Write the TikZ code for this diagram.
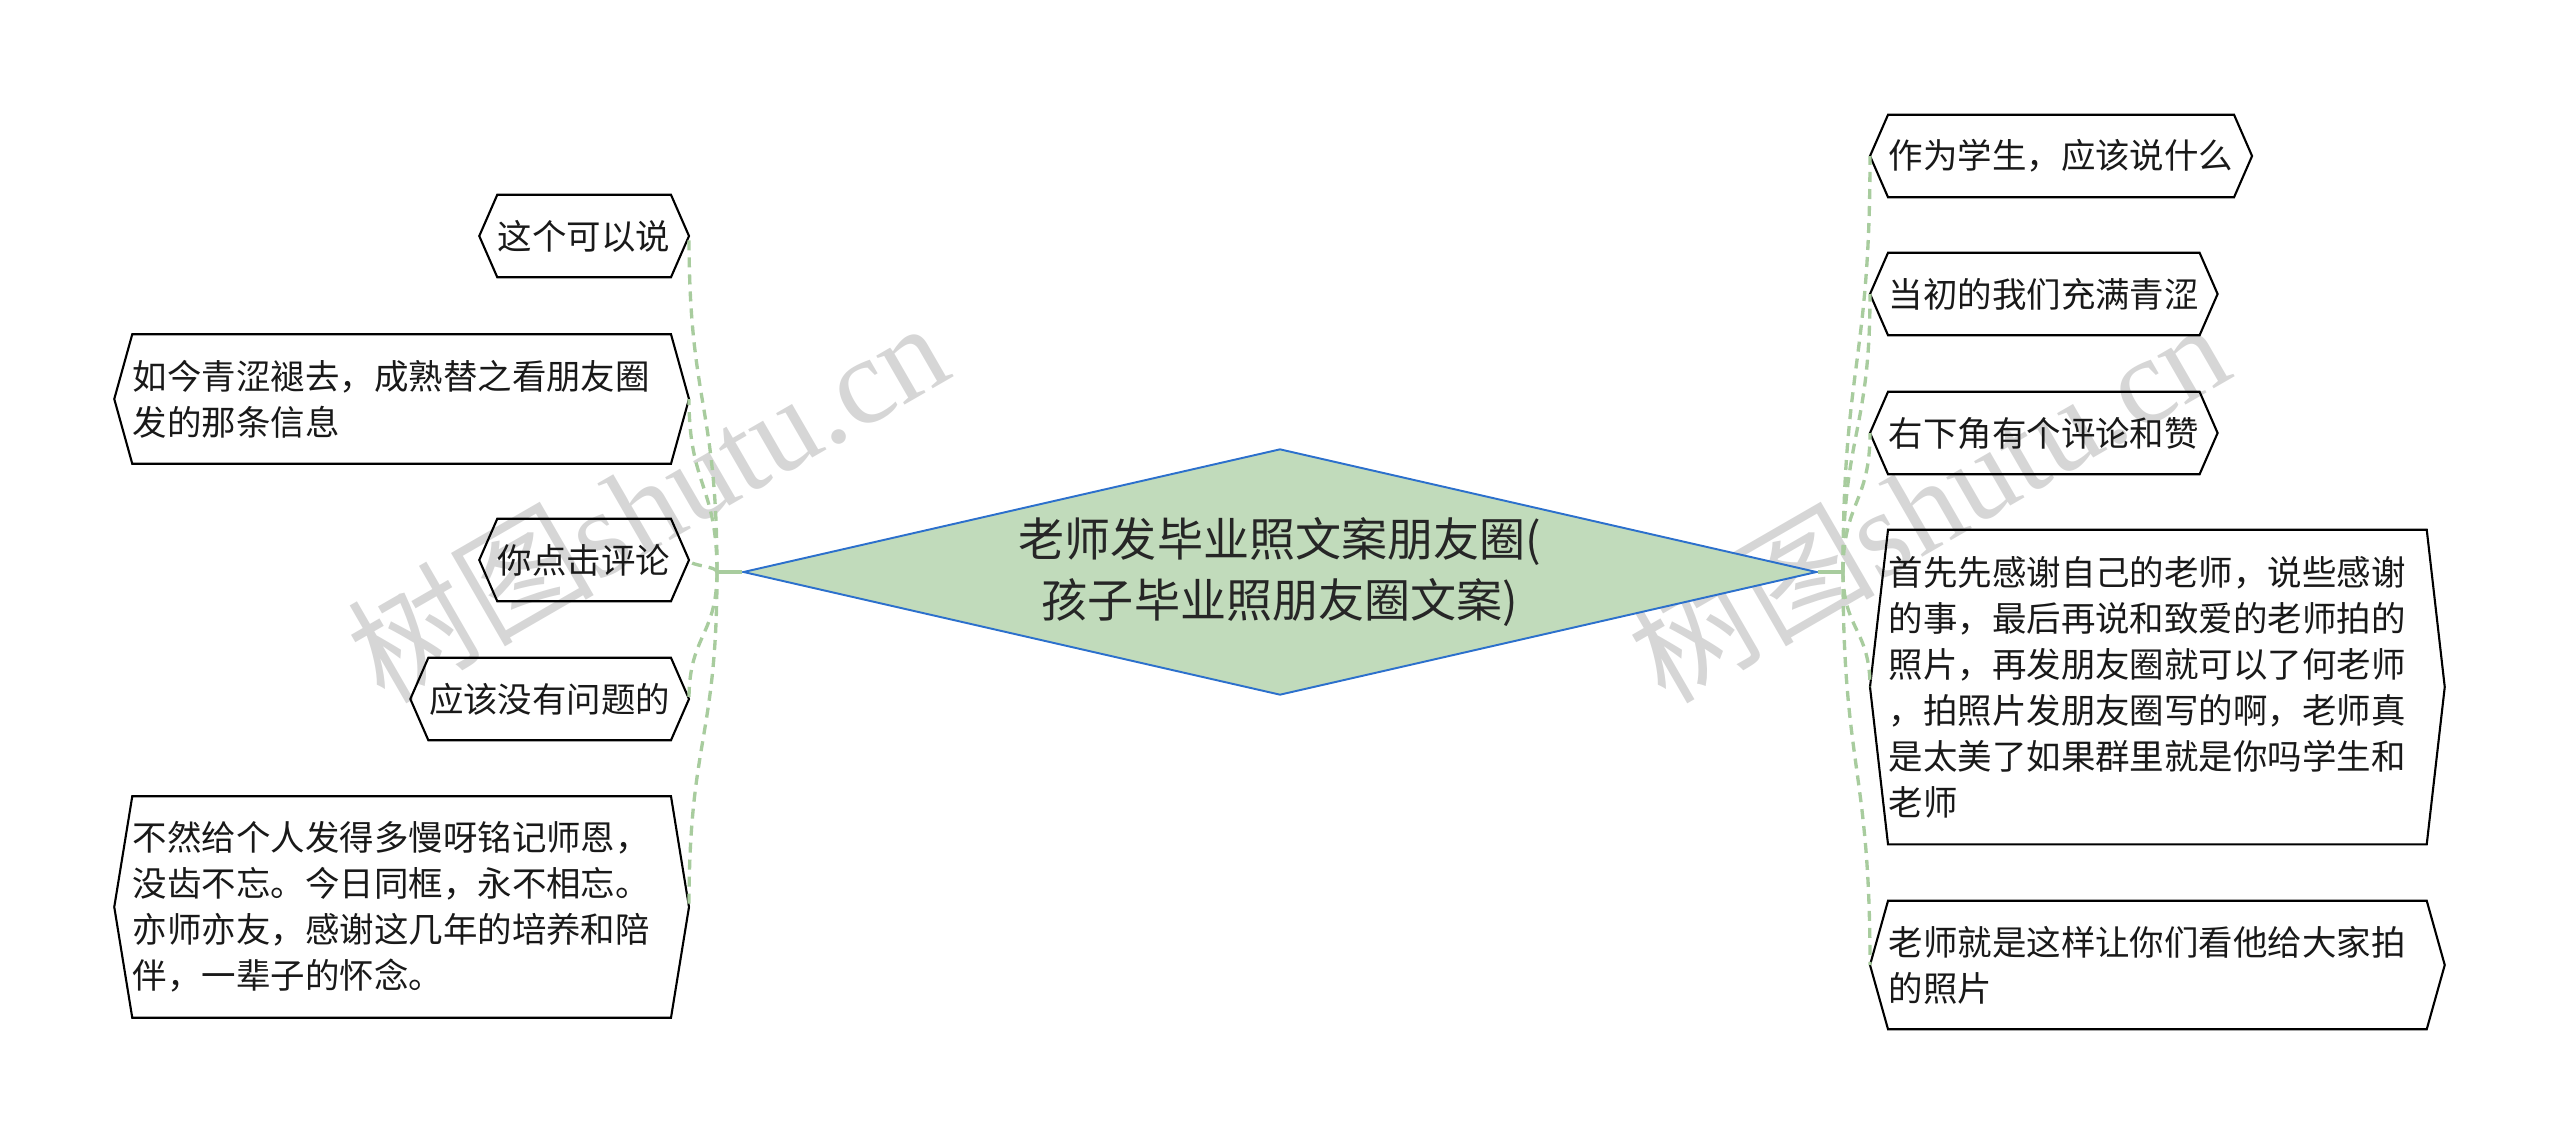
\documentclass[tikz,border=0pt]{standalone}
\usepackage{fontspec}
\setmainfont{Noto Sans CJK SC}
\newfontfamily\markfont{Liberation Serif}
\usetikzlibrary{shapes.geometric}

\definecolor{rootfill}{RGB}{193,219,187}
\definecolor{rootline}{RGB}{44,112,204}
\definecolor{linkgreen}{RGB}{168,204,158}
\definecolor{markgray}{RGB}{214,214,214}

\newcommand{\leaffont}{\fontsize{9.8pt}{13.1pt}\selectfont}
\newcommand{\rootfont}{\fontsize{13.1pt}{17.1pt}\selectfont}
% hexagon outline round a leaf node
\newcommand{\hexframe}[1]{%
  \draw[frame] (#1.west) -- ([xshift=0.18cm]#1.north west) -- ([xshift=-0.18cm]#1.north east)
    -- (#1.east) -- ([xshift=-0.18cm]#1.south east) -- ([xshift=0.18cm]#1.south west) -- cycle;}

\begin{document}
\begin{tikzpicture}[
    x=0.01cm, y=-0.01cm,
    leaf/.style={font=\leaffont, text=black!90, inner xsep=0.18cm, inner ysep=0pt, minimum height=0.81cm, align=left},
    wide/.style={leaf, text width=5.37cm},
    frame/.style={draw=black, line width=0.6pt},
    stem/.style={draw=linkgreen, line width=0.95pt},
    link/.style={stem, dash pattern=on 0.1cm off 0.07cm},
    root/.style={diamond, draw=rootline, fill=rootfill, line width=0.55pt, aspect=4.36,
        minimum width=10.73cm, minimum height=2.46cm, inner sep=0pt, align=center,
        font=\rootfont, text=black!85},
    watermark/.style={text=markgray, rotate=30, font=\fontsize{35pt}{35pt}\selectfont},
]
\useasboundingbox (0,0) rectangle (2560,1145);

% watermark
\node[watermark] (wm1) at (647,500) {树图\markfont shutu.cn};
\node[watermark] (wm2) at (1928,500) {树图\markfont shutu.cn};

% centre
\node[root] (root) at (1280,572) {老师发毕业照文案朋友圈(\\孩子毕业照朋友圈文案)};

% left branch
\node[leaf, anchor=east] (l1) at (689,236) {这个可以说};
\node[wide, anchor=east, minimum height=1.28cm] (l2) at (689,399) {如今青涩褪去，成熟替之看朋友圈\\发的那条信息};
\node[leaf, anchor=east] (l3) at (689,560) {你点击评论};
\node[leaf, anchor=east] (l4) at (689,699) {应该没有问题的};
\node[wide, anchor=east, minimum height=2.2cm] (l5) at (689,907) {不然给个人发得多慢呀铭记师恩，\\没齿不忘。今日同框，永不相忘。\\亦师亦友，感谢这几年的培养和陪\\伴，一辈子的怀念。};

% right branch
\node[leaf, anchor=west] (r1) at (1870,156) {作为学生，应该说什么};
\node[leaf, anchor=west] (r2) at (1870,294) {当初的我们充满青涩};
\node[leaf, anchor=west] (r3) at (1870,433) {右下角有个评论和赞};
\node[wide, anchor=west, minimum height=3.13cm] (r4) at (1870,687) {首先先感谢自己的老师，说些感谢\\的事，最后再说和致爱的老师拍的\\照片，再发朋友圈就可以了何老师\\，拍照片发朋友圈写的啊，老师真\\是太美了如果群里就是你吗学生和\\老师};
\node[wide, anchor=west, minimum height=1.27cm] (r5) at (1870,965) {老师就是这样让你们看他给大家拍\\的照片};

\hexframe{l1} \hexframe{l2} \hexframe{l3} \hexframe{l4} \hexframe{l5}
\hexframe{r1} \hexframe{r2} \hexframe{r3} \hexframe{r4} \hexframe{r5}

% connectors
\coordinate (lj) at (717,572);
\coordinate (rj) at (1843,572);
\draw[stem] (root.west) -- (lj);
\draw[stem] (root.east) -- (rj);

\draw[link] (lj) .. controls +(0,-168) and +(0,168) .. (l1.east);
\draw[link] (lj) .. controls +(0,-87) and +(0,87) .. (l2.east);
\draw[link] (lj) .. controls +(0,-6) and +(0,6) .. (l3.east);
\draw[link] (lj) .. controls +(0,64) and +(0,-64) .. (l4.east);
\draw[link] (lj) .. controls +(0,168) and +(0,-168) .. (l5.east);

\draw[link] (rj) .. controls +(0,-208) and +(0,208) .. (r1.west);
\draw[link] (rj) .. controls +(0,-139) and +(0,139) .. (r2.west);
\draw[link] (rj) .. controls +(0,-70) and +(0,70) .. (r3.west);
\draw[link] (rj) .. controls +(0,58) and +(0,-58) .. (r4.west);
\draw[link] (rj) .. controls +(0,197) and +(0,-197) .. (r5.west);

\end{tikzpicture}
\end{document}
